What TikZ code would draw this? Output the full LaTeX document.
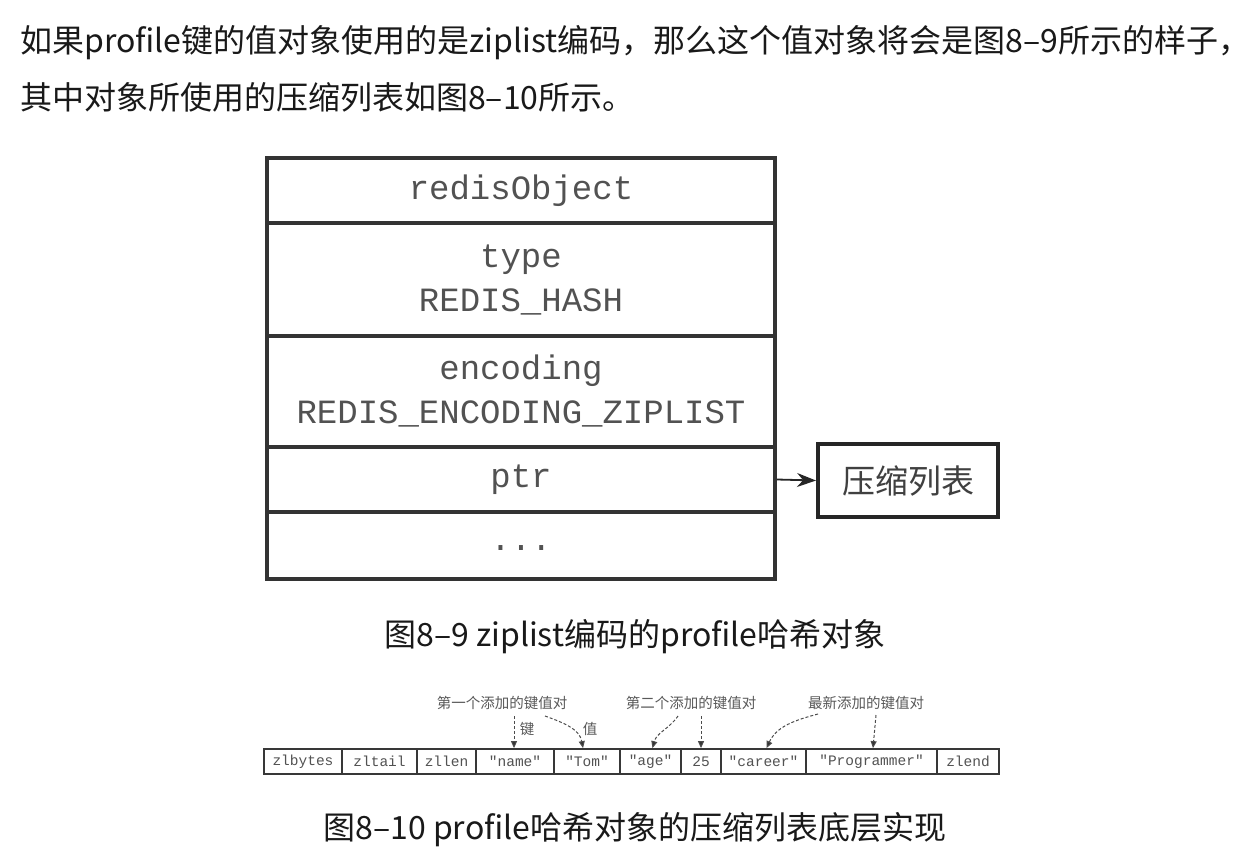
\documentclass[tikz,border=0pt]{standalone}
\usepackage{fontspec}
\setmainfont{Noto Sans CJK SC}
\newfontfamily\monofnt{Liberation Mono}
\newfontfamily\cjk{Noto Sans CJK SC}
\usetikzlibrary{arrows.meta}
\begin{document}
\begin{tikzpicture}[x=1pt,y=1pt,
 objcell/.style={draw=black!80, line width=4pt, minimum width=508pt, inner sep=0pt,
   font=\monofnt\fontsize{34}{44}\selectfont, text=black!68, align=center},
 zcell/.style={draw=black!78, line width=1.8pt, minimum height=25pt, inner sep=0pt,
   font=\monofnt\fontsize{14.5}{16}\selectfont, text=black!68},
 note/.style={font=\cjk\fontsize{14.5}{16}\selectfont, text=black!65, inner sep=0pt},
 dasharrow/.style={draw=black!70, line width=1pt, dash pattern=on 3pt off 2pt,
   -{Triangle[length=7pt,width=6pt,fill=black!80]}},
 para/.style={font=\fontsize{32}{36}\selectfont, text=black!90, inner sep=0pt}]
\path[use as bounding box, fill=white] (0,0) rectangle (1260,-862);

% paragraph
\node[para, anchor=base west] (p1) at (20,-52) {如果profile键的值对象使用的是ziplist编码，那么这个值对象将会是图8–9所示的样子，};
\node[para, anchor=base west] (p2) at (20,-109) {其中对象所使用的压缩列表如图8–10所示。};

% redisObject
\node[objcell, minimum height=65pt] (ro) at (521,-190.5) {redisObject};
\node[objcell, minimum height=113pt] (ty) at (521,-279.5) {type\\REDIS\_HASH};
\node[objcell, minimum height=111pt] (en) at (521,-391.5) {encoding\\REDIS\_ENCODING\_ZIPLIST};
\node[objcell, minimum height=65pt] (ptr) at (521,-479.5) {ptr};
\node[objcell, minimum height=67pt] (dots) at (521,-545.5) {\raisebox{-9pt}{...}};

\node[draw=black!85, line width=4pt, minimum width=180pt, minimum height=73pt, inner sep=0pt,
  font=\cjk\fontsize{33}{36}\selectfont, text=black!75] (zl) at (908,-480.5) {压缩列表};
\draw[line width=1.8pt, draw=black!85, -{Stealth[length=19pt,width=14pt]}] (ptr.east) -- (zl.west);

\node[para, anchor=base] (cap1) at (635,-646) {图8–9 ziplist编码的profile哈希对象};

% ziplist
\node[zcell, minimum width=78pt] (zlbytes) at (303,-761.5) {zlbytes};
\node[zcell, minimum width=75pt] (zltail) at (379.5,-761.5) {zltail};
\node[zcell, minimum width=59pt] (zllen) at (446.5,-761.5) {zllen};
\node[zcell, minimum width=78pt] (name) at (515,-761.5) {"name"};
\node[zcell, minimum width=66pt] (tom) at (587,-761.5) {"Tom"};
\node[zcell, minimum width=61pt] (age) at (650.5,-761.5) {"age"};
\node[zcell, minimum width=40pt] (n25) at (701,-761.5) {25};
\node[zcell, minimum width=85pt] (career) at (763.5,-761.5) {"career"};
\node[zcell, minimum width=131pt] (prog) at (871.5,-761.5) {"Programmer"};
\node[zcell, minimum width=62pt] (zlend) at (968,-761.5) {zlend};

\node[note] (l1) at (502,-703) {第一个添加的键值对};
\node[note] (l2) at (691,-703) {第二个添加的键值对};
\node[note] (l3) at (866,-703) {最新添加的键值对};
\node[note] (kkey) at (527,-729) {键};
\node[note] (kval) at (590,-729) {值};

\coordinate (a1) at (514,-716);
\coordinate (a2) at (545,-716);
\coordinate (b1) at (678,-716);
\coordinate (b2) at (701,-716);
\coordinate (c1) at (818,-714);
\coordinate (c2) at (876,-715);
\draw[dasharrow] (a1) -- ([xshift=-1pt]name.north);
\draw[dasharrow] (a2) to[out=-20,in=100] ([xshift=-4pt]tom.north);
\draw[dasharrow] (b1) to[out=-125,in=75] ([xshift=2pt]age.north);
\draw[dasharrow] (b2) -- (n25.north);
\draw[dasharrow] (c1) to[out=-165,in=65] ([xshift=3pt]career.north);
\draw[dasharrow] (c2) -- ([xshift=1.5pt]prog.north);

\node[para, anchor=base] (cap2) at (635,-839) {图8–10 profile哈希对象的压缩列表底层实现};
\end{tikzpicture}
\end{document}
